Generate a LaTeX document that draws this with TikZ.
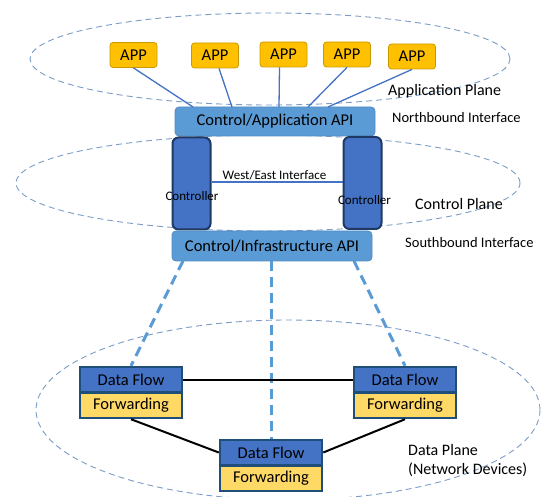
\documentclass[tikz,border=0pt]{standalone}
\usepackage{fontspec}
\setmainfont{Carlito}
\definecolor{appfill}{HTML}{FFC000}
\definecolor{appdraw}{HTML}{C99A00}
\definecolor{apifill}{HTML}{5B9BD5}
\definecolor{apidraw}{HTML}{4F8AC2}
\definecolor{ctrlfill}{HTML}{4472C4}
\definecolor{ctrldraw}{HTML}{203864}
\definecolor{fwfill}{HTML}{FFD966}
\definecolor{devdraw}{HTML}{1F4E79}
\definecolor{planeline}{HTML}{7A9CC6}
\definecolor{linkblue}{HTML}{4472C4}
\definecolor{droplink}{HTML}{5B9BD5}
\newcommand{\fsz}[1]{\fontsize{#1}{#1}\selectfont}
\begin{document}
\begin{tikzpicture}[x=1pt,y=-1pt,
  plane/.style={draw=planeline,dashed,dash pattern=on 6pt off 4pt,line width=0.9pt},
  appbox/.style={draw=appdraw,fill=appfill,rounded corners=3pt,line width=0.8pt,
    minimum width=47pt,minimum height=25pt,inner sep=0pt,font=\fsz{16.5}},
  apibox/.style={draw=apidraw,fill=apifill,rounded corners=4pt,line width=0.8pt,
    inner sep=0pt,font=\fsz{16.5}},
  ctrlbox/.style={draw=ctrldraw,fill=ctrlfill,rounded corners=6pt,line width=2pt,
    minimum width=38pt,minimum height=92pt,inner sep=0pt},
  smalltext/.style={inner sep=0pt,font=\fsz{13}},
  dfbox/.style={draw=devdraw,fill=ctrlfill,line width=2.5pt,minimum width=102pt,
    minimum height=25pt,inner sep=0pt,font=\fsz{16.5}},
  fwbox/.style={draw=devdraw,fill=fwfill,line width=2.5pt,minimum width=102pt,
    minimum height=25pt,inner sep=0pt,font=\fsz{16.5}},
  lbl/.style={anchor=west,inner sep=0pt,font=\fsz{16}},
  lblsmall/.style={anchor=west,inner sep=0pt,font=\fsz{14.5}},
  applink/.style={draw=linkblue,line width=1.3pt},
  droplinkstyle/.style={draw=droplink,line width=3pt,dash pattern=on 10pt off 6pt},
  devlink/.style={draw=black,line width=2pt}]
\useasboundingbox (0,0) rectangle (549,497);

% plane outlines
\draw[plane] (270,59) ellipse [x radius=240pt, y radius=46pt];
\draw[plane] (268,183) ellipse [x radius=252pt, y radius=48pt];
\draw[plane] (288,410) ellipse [x radius=252pt, y radius=90pt];

% application plane
\node[appbox] (app1) at (133.5,55) {APP};
\node[appbox] (app2) at (215,55.5) {APP};
\node[appbox] (app3) at (283.5,54.5) {APP};
\node[appbox] (app4) at (347,54.5) {APP};
\node[appbox] (app5) at (412,56.5) {APP};

\node[apibox,minimum width=200pt,minimum height=29pt] (nbi) at (275,121.5) {Control/Application API};

\coordinate (n1) at (193,107);
\coordinate (n2) at (232,107);
\coordinate (n3) at (279,107);
\coordinate (n4) at (308,107);
\coordinate (n5) at (328,107);
\draw[applink] (app1.south) -- (n1);
\draw[applink] (app2.south) ++(4,0) -- (n2);
\draw[applink] (app3.south) ++(-4,0) -- (n3);
\draw[applink] (app4.south) -- (n4);
\draw[applink] (app5.south) -- (n5);

% control plane
\node[ctrlbox] (ctrlL) at (191.5,183.5) {};
\node[ctrlbox] (ctrlR) at (362.5,183) {};
\node[smalltext] (ctrlLlbl) at (192,196) {Controller};
\node[smalltext] (ctrlRlbl) at (364.5,200) {Controller};
\draw[linkblue,line width=1.2pt] (ctrlL.east |- 0,182) -- (ctrlR.west |- 0,182);
\node[smalltext] (we) at (274.5,175.5) {West/East Interface};

\node[apibox,minimum width=200pt,minimum height=30pt] (sbi) at (272,246) {Control/Infrastructure API};

% data plane devices
\node[dfbox] (dfL) at (131,379.5) {Data Flow};
\node[fwbox] (fwL) at (131,405.5) {Forwarding};
\node[dfbox] (dfR) at (405,379.5) {Data Flow};
\node[fwbox] (fwR) at (405,405.5) {Forwarding};
\node[dfbox] (dfB) at (271,452.5) {Data Flow};
\node[fwbox] (fwB) at (271,478.5) {Forwarding};

% southbound drops
\coordinate (s1) at (183,261);
\coordinate (s2) at (271,261);
\coordinate (s3) at (354,261);
\draw[droplinkstyle] (s1) -- (dfL.north);
\draw[droplinkstyle] (s2) -- (dfB.north);
\draw[droplinkstyle] (s3) -- (dfR.north);

% device links
\draw[devlink] (dfL.east) -- (dfR.west);
\draw[devlink] (fwL.south) -- (dfB.west);
\draw[devlink] (fwR.south) -- (dfB.east);

% plane labels
\node[lbl] (aplbl) at (388,91) {Application Plane};
\node[lblsmall] (nblbl) at (392,118) {Northbound Interface};
\node[lbl] (cplbl) at (415,204) {Control Plane};
\node[lblsmall] (sblbl) at (405,243) {Southbound Interface};
\node[lbl] (dplbl1) at (408,450) {Data Plane};
\node[lbl] (dplbl2) at (408,470) {(Network Devices)};
\end{tikzpicture}
\end{document}
